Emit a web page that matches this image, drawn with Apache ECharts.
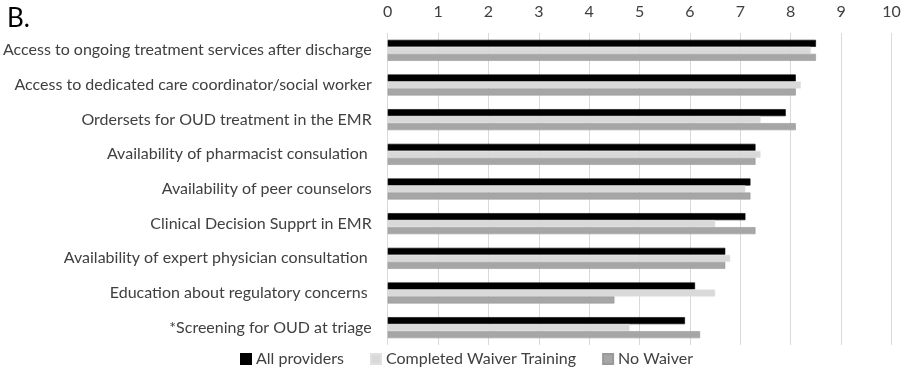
<!DOCTYPE html>
<html><head><meta charset="utf-8">
<script src="https://cdn.jsdelivr.net/npm/echarts@6/dist/echarts.min.js"></script>
<style>html,body{margin:0;padding:0;background:#fff}#c{width:916px;height:375px}</style>
</head><body><div id="c"></div>
<script>
const categories = [
  "Access to ongoing treatment services after discharge",
  "Access to dedicated care coordinator/social worker",
  "Ordersets for OUD treatment in the EMR",
  "Availability of pharmacist consulation ",
  "Availability of peer counselors",
  "Clinical Decision Supprt in EMR",
  "Availability of expert physician consultation ",
  "Education about regulatory concerns ",
  "*Screening for OUD at triage"
];
const allProviders = [8.5, 8.1, 7.9, 7.3, 7.2, 7.1, 6.7, 6.1, 5.9];
const completedWaiver = [8.4, 8.2, 7.4, 7.4, 7.1, 6.5, 6.8, 6.5, 4.8];
const noWaiver = [8.5, 8.1, 8.1, 7.3, 7.2, 7.3, 6.7, 4.5, 6.2];
const seriesNames = ["All providers", "Completed Waiver Training", "No Waiver"];

const font = "Lato, 'Open Sans', sans-serif";
const chart = echarts.init(document.getElementById('c'));
const mk = (name, data, color, border) => ({
  name, type: 'bar', data, barWidth: 7, barGap: '0%',
  itemStyle: { color, borderColor: border, borderWidth: 0.6 },
  animation: false
});
chart.setOption({
  animation: false,
  title: { text: 'B.', left: 2, top: 1, textStyle: { fontFamily: font, fontWeight: 'normal', fontSize: 26, color: '#000' } },
  grid: { left: 387.7, right: 24.5, top: 33, bottom: 30 },
  legend: {
    bottom: 8, left: 240, padding: 0, itemWidth: 10, itemHeight: 10, itemGap: 26,
    icon: 'rect',
    textStyle: { fontFamily: font, fontSize: 16, color: '#404040' },
    data: seriesNames
  },
  xAxis: {
    type: 'value', position: 'top', min: 0, max: 10, interval: 1,
    axisLine: { show: false }, axisTick: { show: false },
    axisLabel: { fontFamily: font, fontSize: 16, color: '#404040', margin: 13 },
    splitLine: { show: true, lineStyle: { color: '#d9d9d9', width: 1 } }
  },
  yAxis: {
    type: 'category', data: categories, inverse: true,
    axisLine: { show: false }, axisTick: { show: false },
    axisLabel: { fontFamily: font, fontSize: 16, color: '#404040', margin: 16 }
  },
  series: [
    mk(seriesNames[0], allProviders, '#000000', '#000000'),
    mk(seriesNames[1], completedWaiver, '#d9d9d9', '#e0e0e0'),
    mk(seriesNames[2], noWaiver, '#a6a6a6', '#999999')
  ]
});
</script></body></html>
